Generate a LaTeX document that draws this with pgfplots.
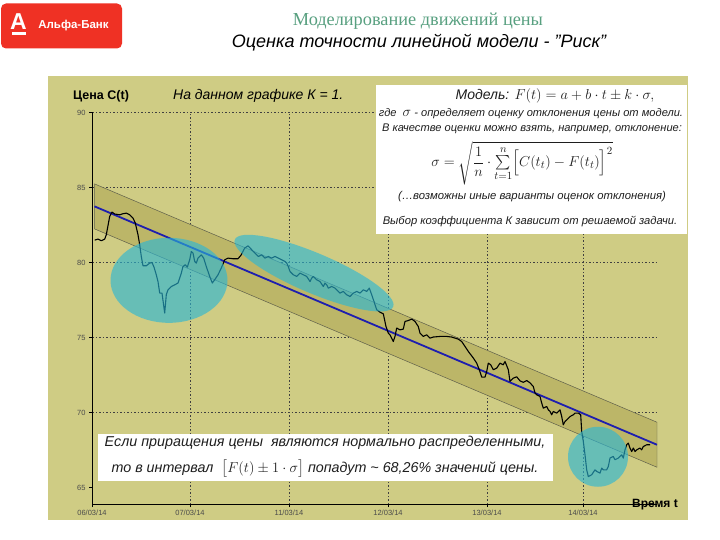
\documentclass[border=0pt]{standalone}
\usepackage{fontspec}
\setmainfont{Liberation Sans}
\newfontfamily\serifru{Liberation Serif}
\usepackage{amsmath}
\usepackage{pgfplots}
\pgfplotsset{compat=1.18}
\definecolor{panel}{RGB}{207,204,132}
\definecolor{bandfill}{RGB}{188,182,104}
\definecolor{bandedge}{RGB}{95,95,75}
\definecolor{regline}{RGB}{30,30,175}
\definecolor{ellcol}{RGB}{40,182,214}
\definecolor{alfared}{RGB}{239,49,36}
\definecolor{titlegreen}{RGB}{88,160,128}
\definecolor{ticklab}{RGB}{75,75,75}
\definecolor{boxtext}{RGB}{30,30,30}

\begin{document}
\begin{tikzpicture}
\useasboundingbox (0,0) rectangle (720pt,-540pt);
\fill[white] (0,0) rectangle (720pt,-540pt);
% logo
\fill[alfared, rounded corners=5pt] (1pt,-3.5pt) rectangle (122pt,-48.5pt);
\node[white, font=\fontsize{23}{23}\selectfont\bfseries, inner sep=0pt] at (18.5pt,-21.5pt) {А};
\fill[white] (11.5pt,-32pt) rectangle (25.5pt,-35pt);
\node[white, font=\fontsize{11.5}{12}\selectfont\bfseries, inner sep=0pt] at (73.5pt,-26pt) {Альфа-Банк};
% titles
\node[titlegreen, font=\serifru\fontsize{18.3}{19}\selectfont, inner sep=0pt] at (418pt,-21pt) {Моделирование движений цены};
\node[black, font=\fontsize{18}{19}\selectfont\itshape, inner sep=0pt] at (419pt,-43pt) {Оценка точности линейной модели - ”Риск”};
% panel
\fill[panel] (48pt,-76pt) rectangle (688pt,-520pt);
\begin{axis}[
  at={(92pt,-504pt)}, anchor=south west,
  scale only axis, width=565pt, height=391.5pt,
  xmin=0, xmax=565, ymin=63.9, ymax=90,
  axis x line*=bottom, axis y line*=left,
  axis line style={black, line width=0.8pt, -},
  xtick={0,98,197,296,395,491},
  xticklabels={06/03/14,07/03/14,11/03/14,12/03/14,13/03/14,14/03/14},
  ytick={70,75,80,85,90},
  extra y ticks={65}, extra y tick style={grid=none},
  grid=major,
  major grid style={dash pattern=on 1.5pt off 2pt, black!75, line width=0.6pt},
  tick align=outside, major tick length=3pt,
  tick style={black, line width=0.6pt},
  ticklabel style={font=\fontsize{7.5}{8}\selectfont, text=ticklab},
  /pgf/number format/assume math mode=true,
]
% band  F(t) +/- 1 sigma
\addplot[fill=bandfill, draw=bandedge, line width=0.5pt] coordinates {(2.5,85.24) (565,69.35) (565,66.35) (2.5,82.24)} -- cycle;
% regression line
\addplot[regline, line width=1.8pt] coordinates {(2.5,83.74) (565,67.85)};
% price C(t)
\addplot[black, line width=1.1pt, line join=round] coordinates {
(2.7,81.49) (6.0,81.56) (9.3,81.45) (12.7,81.56) (14.3,81.85) (17.7,83.07) (20.0,83.36) (22.7,83.23)
(27.7,83.18) (31.0,83.25) (34.3,83.29) (37.7,83.18) (41.0,82.96) (43.3,82.63) (46.0,81.85) (47.7,81.18)
(49.3,80.40) (51.0,79.78) (54.3,79.78) (57.7,79.96) (60.0,80.00) (62.0,79.69) (64.3,79.18) (66.0,78.73)
(67.7,77.96) (70.0,77.96) (72.7,76.63) (74.3,77.85) (76.0,78.18) (79.3,78.40) (82.7,78.51) (86.0,78.63)
(89.3,79.29) (91.0,79.73) (93.3,79.85) (95.3,79.69) (97.7,80.18) (99.3,80.73) (101.0,80.63) (102.7,80.07)
(104.3,79.96) (106.0,80.29) (109.3,80.51) (111.7,80.29) (114.3,79.73) (117.7,79.07) (120.3,78.63) (122.7,78.85)
(126.0,79.18) (129.3,79.63) (132.7,80.18) (136.0,80.29) (141.0,80.25) (146.0,80.25) (149.3,80.51) (152.7,80.96)
(156.0,81.11) (159.7,80.85) (163.0,80.63) (166.3,80.40) (169.7,80.51) (173.0,80.29) (176.3,80.40) (179.7,80.29)
(183.0,80.40) (186.3,80.29) (189.7,80.18) (193.0,80.07) (194.7,79.96) (196.3,79.73) (198.0,79.40) (201.3,79.18)
(204.7,79.07) (208.0,79.29) (211.3,79.18) (214.7,79.07) (218.0,78.73) (219.7,78.96) (221.3,79.07) (224.7,78.85)
(228.0,78.73) (231.3,78.40) (233.0,78.63) (234.7,78.51) (236.3,78.29) (239.7,78.40) (243.0,78.29) (246.3,78.07)
(248.0,77.96) (251.3,78.07) (254.7,77.85) (258.0,77.73) (261.3,77.96) (264.7,78.07) (268.0,77.96) (271.3,78.18)
(274.7,78.07) (277.3,78.29) (279.7,77.85) (282.0,77.40) (284.7,76.85) (288.0,76.69) (291.3,76.58) (294.0,75.73)
(296.3,75.29) (298.0,75.18) (301.3,74.73) (303.0,75.07) (304.7,75.63) (308.0,75.51) (311.3,75.56) (313.0,76.07)
(316.3,76.13) (319.7,76.23) (323.0,76.07) (326.3,75.73) (328.0,75.29) (331.3,75.07) (334.7,75.18) (338.0,74.96)
(341.3,75.03) (348.0,75.07) (354.7,75.07) (359.7,75.03) (363.0,74.96) (366.3,74.89) (369.7,74.73) (373.0,74.40)
(376.3,74.07) (381.3,73.63) (384.7,73.29) (387.3,72.85) (389.7,72.36) (393.0,72.36) (394.7,72.73) (396.3,73.29)
(398.7,73.18) (401.3,72.85) (404.7,72.96) (408.0,73.29) (411.3,73.18) (413.0,73.40) (416.3,72.85) (418.0,72.07)
(421.3,72.29) (424.7,72.38) (428.0,72.11) (431.3,72.01) (434.7,72.13) (438.0,71.98) (441.3,71.73) (443.0,71.31)
(444.7,71.18) (448.0,71.07) (449.7,70.63) (451.3,70.29) (454.7,70.40) (456.3,70.18) (458.0,70.07) (459.7,69.85)
(461.3,70.07) (464.7,69.96) (468.0,70.18) (469.7,69.73) (471.3,69.18) (473.0,69.40) (474.7,69.51) (478.0,69.73)
(481.3,69.85) (483.0,69.96) (486.3,69.96) (488.7,69.85) (489.7,68.73) (491.3,68.07) (493.0,67.18) (494.7,66.18)
(496.3,65.73) (499.7,65.85) (503.0,66.18) (504.7,66.07) (508.0,65.96) (509.7,66.29) (511.3,66.18) (514.7,66.18)
(516.3,66.40) (518.0,66.96) (521.3,67.07) (523.0,66.85) (526.3,66.96) (529.7,67.18) (531.3,66.96) (533.0,67.51)
(534.7,67.85) (536.3,67.96) (538.0,67.63) (539.7,67.40) (541.3,67.63) (543.0,67.40) (544.7,67.51) (548.0,67.63)
(549.7,67.51) (551.3,67.73) (554.7,67.85) (558.0,67.85)
};
% highlighted regions
\fill[ellcol, fill opacity=0.62] (axis cs:77,78.81) ellipse [x radius=58.5pt, y radius=42.5pt];
\fill[ellcol, fill opacity=0.62] (axis cs:222,79.29) ellipse [x radius=86pt, y radius=20pt, rotate=-23];
\fill[ellcol, fill opacity=0.62] (axis cs:506,67.05) ellipse [x radius=30pt, y radius=30pt];
\end{axis}
% axis captions
\node[anchor=west, font=\fontsize{12.5}{13}\selectfont\bfseries, inner sep=0pt] at (73pt,-96pt) {Цена C(t)};
\node[anchor=west, font=\fontsize{14}{14}\selectfont\itshape, inner sep=0pt] at (173pt,-96pt) {На данном графике К = 1.};
\node[anchor=east, font=\fontsize{12}{13}\selectfont\bfseries, inner sep=0pt] at (678pt,-505pt) {Время t};
% model box
\fill[white] (376pt,-85pt) rectangle (687pt,-234pt);
\node[boxtext, font=\fontsize{14}{15}\selectfont\itshape, inner sep=0pt] at (555pt,-96pt) {Модель: {\fontsize{15.5}{16}\selectfont$F(t)=a+b\cdot t\pm k\cdot\sigma,$}};
\node[boxtext, font=\fontsize{11.1}{12}\selectfont\itshape, inner sep=0pt] at (531pt,-114pt) {где \ {\fontsize{14.5}{14.5}\selectfont$\sigma$} - определяет оценку отклонения цены от модели.};
\node[boxtext, font=\fontsize{11.1}{12}\selectfont\itshape, inner sep=0pt] at (532pt,-128.5pt) {В качестве оценки можно взять, например, отклонение:};
\node[boxtext, font=\fontsize{15}{16}\selectfont, inner sep=0pt] at (522pt,-163pt) {$\sigma=\sqrt{\dfrac{1}{n}\cdot{\textstyle\sum\limits_{t=1}^{n}}\Bigl[C(t_t)-F(t_t)\Bigr]^2}$};
\node[boxtext, font=\fontsize{11.3}{12}\selectfont\itshape, inner sep=0pt] at (532pt,-196.5pt) {(…возможны иные варианты оценок отклонения)};
\node[boxtext, font=\fontsize{11.2}{12}\selectfont\itshape, inner sep=0pt] at (530pt,-221.7pt) {Выбор коэффициента К зависит от решаемой задачи.};
% bottom box
\fill[white] (98pt,-434pt) rectangle (553pt,-481pt);
\node[boxtext, font=\fontsize{14.3}{15}\selectfont\itshape, inner sep=0pt] at (325pt,-443pt) {Если приращения цены \ являются нормально распределенными,};
\node[boxtext, font=\fontsize{14.3}{15}\selectfont\itshape, inner sep=0pt] at (325pt,-469pt) {то в интервал \ {\fontsize{15}{15}\selectfont$\bigl[F(t)\pm1\cdot\sigma\bigr]$} попадут \textasciitilde\ 68,26\% значений цены.};
\end{tikzpicture}
\end{document}
